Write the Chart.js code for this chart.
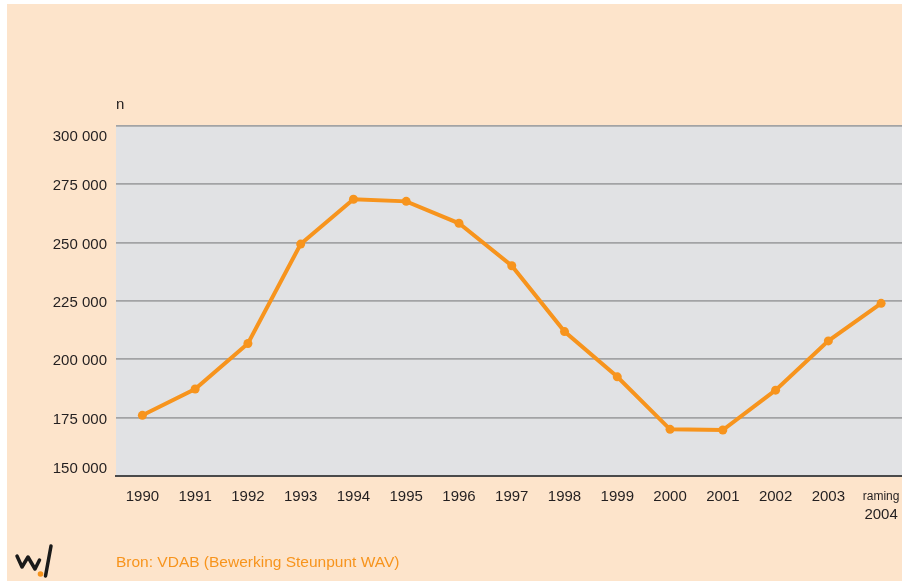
<!DOCTYPE html>
<html>
<head>
<meta charset="utf-8">
<script src="https://cdn.jsdelivr.net/npm/chart.js@4/dist/chart.umd.min.js"></script>
<style>
  html, body { margin: 0; padding: 0; background: #fff; overflow: hidden; width: 902px; height: 581px; }
  #bg { position: absolute; left: 7px; top: 4px; right: 0; bottom: 0; background: #FDE4CB; }
  #wrap { position: absolute; left: 0; top: 0; width: 902px; height: 581px; overflow: hidden; }
  canvas { position: absolute; left: 0; top: 0; }
</style>
</head>
<body>
<div id="bg"></div>
<div id="wrap"><canvas id="jobsChart" width="912" height="581"></canvas></div>
<script>
// years on the x axis (last one is an estimate, "raming")
const years = ['1990', '1991', '1992', '1993', '1994', '1995', '1996', '1997',
               '1998', '1999', '2000', '2001', '2002', '2003', 'raming 2004'];
// number of job vacancies (n)
const vacancies = [176000, 187300, 206800, 249400, 268600, 267700, 258300, 240100,
                   211900, 192500, 170000, 169700, 186800, 207900, 224000];
// y axis range
const yMin = 150000;
const yMax = 300000;
const yStep = 25000;

const yTitle = 'n';
const sourceText = 'Bron: VDAB (Bewerking Steunpunt WAV)';

const orange = '#F7941D';
const textCol = '#231F20';
const fontFam = "'Liberation Sans', Arial, sans-serif";

var fmt = function(v) {
  return String(v).replace(/\B(?=(\d{3})+(?!\d))/g, ' ');
};

// grey plot background + extra texts and the logo
const decor = {
  id: 'decor',
  beforeDraw(chart) {
    const a = chart.chartArea, ctx = chart.ctx;
    ctx.save();
    ctx.fillStyle = '#E1E2E4';
    ctx.fillRect(a.left, a.top, a.right - a.left, a.bottom - a.top);
    ctx.restore();
  },
  afterDraw(chart) {
    const ctx = chart.ctx;
    const x = chart.scales.x;
    ctx.save();
    ctx.fillStyle = textCol;
    ctx.font = '15px ' + fontFam;
    ctx.textAlign = 'left';
    ctx.textBaseline = 'alphabetic';
    ctx.fillText(yTitle, 116, 109);

    // small "raming" above the last year
    const last = years[years.length - 1];
    if (last.indexOf('raming') === 0) {
      ctx.font = '12px ' + fontFam;
      ctx.textAlign = 'center';
      ctx.textBaseline = 'middle';
      ctx.fillText('raming', x.getPixelForValue(years.length - 1), 497);
    }

    // source line
    ctx.font = '15.5px ' + fontFam;
    ctx.fillStyle = orange;
    ctx.textAlign = 'left';
    ctx.textBaseline = 'middle';
    ctx.fillText(sourceText, 116, 563);

    // logo
    ctx.strokeStyle = '#1A1A1A';
    ctx.lineWidth = 3.5;
    ctx.lineCap = 'round';
    ctx.lineJoin = 'round';
    ctx.beginPath();
    ctx.moveTo(17, 556);
    ctx.lineTo(22, 567);
    ctx.lineTo(28, 557);
    ctx.lineTo(35, 569);
    ctx.lineTo(39.5, 560);
    ctx.stroke();
    ctx.beginPath();
    ctx.moveTo(45.5, 576);
    ctx.lineTo(51, 546);
    ctx.stroke();
    ctx.fillStyle = orange;
    ctx.beginPath();
    ctx.arc(40.5, 574, 2.8, 0, Math.PI * 2);
    ctx.fill();
    ctx.restore();
  }
};

const ctx = document.getElementById('jobsChart').getContext('2d');
const jobsChart = new Chart(ctx, {
  type: 'line',
  data: {
    labels: years,
    datasets: [{
      label: yTitle,
      data: vacancies,
      borderColor: orange,
      backgroundColor: orange,
      borderWidth: 4,
      pointRadius: 4.5,
      pointBorderWidth: 0,
      pointBackgroundColor: orange,
      tension: 0,
      fill: false
    }]
  },
  options: {
    responsive: false,
    animation: false,
    devicePixelRatio: 1,
    layout: { padding: { left: 0, top: 126, right: 2, bottom: 0 } },
    plugins: {
      legend: { display: false },
      tooltip: { enabled: false }
    },
    scales: {
      x: {
        offset: true,
        grid: { display: true, drawOnChartArea: false, drawTicks: false },
        border: { display: true, color: '#4A4A4A', width: 2 },
        ticks: {
          color: textCol,
          font: { family: fontFam, size: 15, lineHeight: 1.2 },
          padding: 12,
          maxRotation: 0,
          autoSkip: false,
          callback: function(value) {
            const lab = this.getLabelForValue(value);
            if (lab.indexOf('raming') === 0) return ['', lab.split(' ')[1]];
            return lab;
          }
        },
        afterFit: function(scale) { scale.height = 105; }
      },
      y: {
        min: yMin,
        max: yMax,
        grid: {
          drawTicks: false,
          color: function(c) { return c.tick && c.tick.value === yMin ? 'rgba(0,0,0,0)' : '#A2A3A5'; },
          lineWidth: 1.8
        },
        border: { display: false },
        ticks: {
          stepSize: yStep,
          color: textCol,
          padding: 9,
          labelOffset: 2,
          font: { family: fontFam, size: 15, lineHeight: 1.2 },
          callback: function(v) {
            // top and bottom labels sit inside the plot, like the original
            if (v === yMax) return ['', fmt(v)];
            if (v === yMin) return [fmt(v), ''];
            return fmt(v);
          }
        },
        afterFit: function(scale) { scale.width = 116; }
      }
    }
  },
  plugins: [decor]
});
</script>
</body>
</html>
